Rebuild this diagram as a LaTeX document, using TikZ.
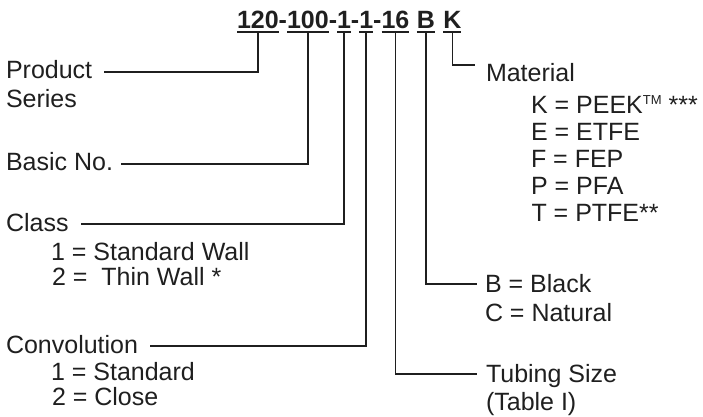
\documentclass[tikz,border=0pt]{standalone}
\usepackage{fontspec}
\setmainfont{Liberation Sans}
\begin{document}
\begin{tikzpicture}[x=1pt,y=-1pt,
  every node/.style={inner sep=0pt,outer sep=0pt,anchor=base west,text=black!88,font=\fontsize{25}{30}\selectfont},
  code/.style={font=\fontsize{25}{30}\selectfont\bfseries},
  ul/.style={line width=1.5pt,black!88},
  conn/.style={line width=1.7pt,black!88}]
\useasboundingbox (0,0) rectangle (703,416);
% title code
\node[code] (c120) at (237,28) {120};
\node[code] (h1) at (c120.base east) {-};
\node[code] (c100) at (h1.base east) {100};
\node[code] (h2) at (c100.base east) {-};
\node[code] (cclass) at (h2.base east) {1};
\node[code] (h3) at (cclass.base east) {-};
\node[code] (cconv) at (h3.base east) {1};
\node[code] (h4) at (cconv.base east) {-};
\node[code] (csize) at (h4.base east) {16};
\node[code] (ccol) at ([xshift=7.5pt]csize.base east) {B};
\node[code] (cmat) at ([xshift=8.5pt]ccol.base east) {K};
\foreach \n in {c120,c100,cclass,cconv,csize,ccol,cmat}{
  \draw[ul] ([yshift=-4pt]\n.base west) -- ([yshift=-4pt]\n.base east);
}
% left labels
\node (prod) at (6,78) {Product};
\node (ser) at (6,107) {Series};
\node (basic) at (6,170) {Basic No.};
\node (class) at (6,231) {Class};
\node (cl1) at (51,260) {1 = Standard Wall};
\node (cl2) at (52,285) {2 = \ Thin Wall *};
\node (conv) at (6,353) {Convolution};
\node (cv1) at (51,380) {1 = Standard};
\node (cv2) at (52,405) {2 = Close};
% right labels
\node (mat) at (486,81) {Material};
\node (mk) at (531,113) {K = PEEK\raisebox{8.6pt}{\fontsize{13}{13}\selectfont TM} ***};
\node (me) at (531,140) {E = ETFE};
\node (mf) at (531,167) {F = FEP};
\node (mp) at (531,194) {P = PFA};
\node (mt) at (531.5,221) {T = PTFE**};
\node (colb) at (485,292) {B = Black};
\node (colc) at (485,321) {C = Natural};
\node (size) at (486,382) {Tubing Size};
\node (tab) at (486,410) {(Table I)};
% connectors
\draw[conn] ([yshift=-4pt]c120.base) |- ([xshift=12pt,yshift=6pt]prod.base east);
\draw[conn] ([yshift=-4pt]c100.base) |- ([xshift=8pt,yshift=6pt]basic.base east);
\draw[conn] ([yshift=-4pt]cclass.base) |- ([xshift=12pt,yshift=7pt]class.base east);
\draw[conn] ([yshift=-4pt]cconv.base) |- ([xshift=12pt,yshift=7pt]conv.base east);
\draw[conn] ([yshift=-4pt]csize.base) |- ([xshift=-9pt,yshift=8pt]size.base west);
\draw[conn] ([yshift=-4pt]ccol.base) |- ([xshift=-8pt,yshift=8pt]colb.base west);
\draw[conn] ([yshift=-4pt]cmat.base) |- ([xshift=-11pt,yshift=16pt]mat.base west);
\end{tikzpicture}
\end{document}
